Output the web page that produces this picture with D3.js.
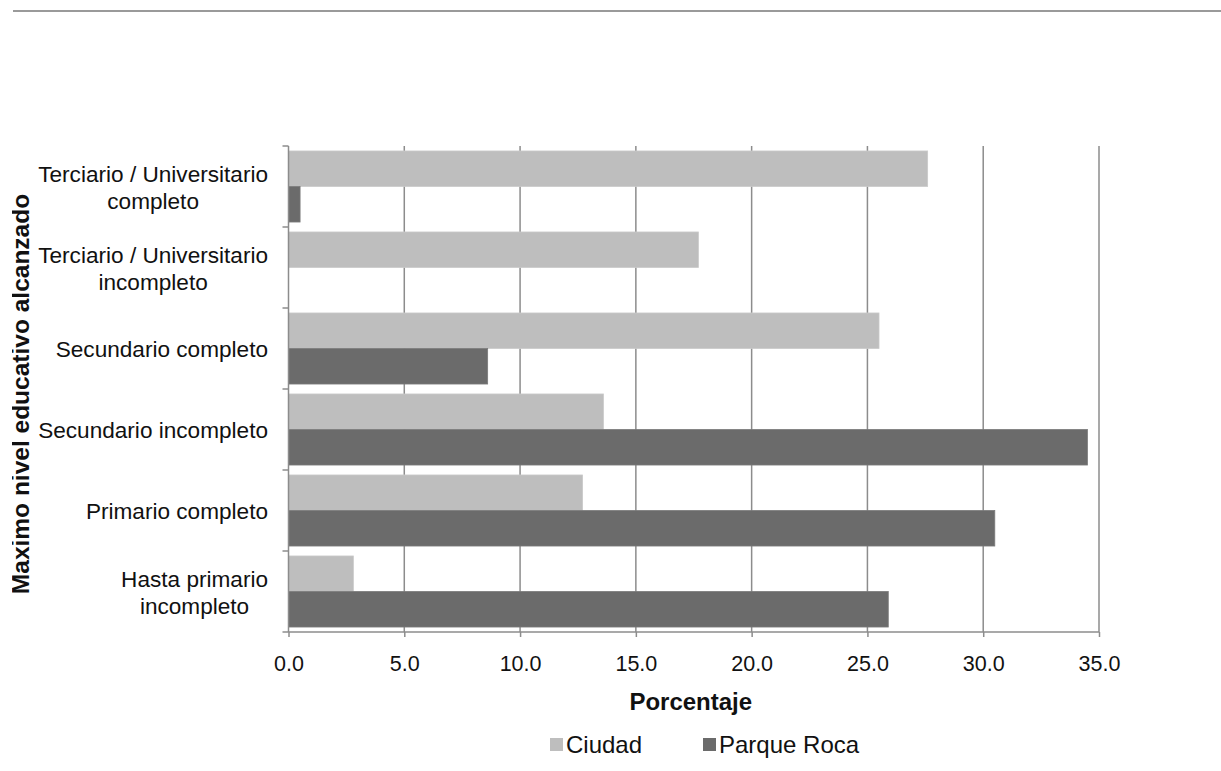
<!DOCTYPE html>
<html>
<head>
<meta charset="utf-8">
<script src="https://cdn.jsdelivr.net/npm/d3@7"></script>
<style>
  html, body { margin: 0; padding: 0; background: #fff; }
  svg { display: block; font-family: "Liberation Sans", Arial, sans-serif; }
</style>
</head>
<body>
<svg id="chart" width="1221" height="771"></svg>
<script>
// Education level categories, listed top to bottom
const categories = [
  ["Terciario / Universitario", "completo"],
  ["Terciario / Universitario", "incompleto"],
  ["Secundario completo"],
  ["Secundario incompleto"],
  ["Primario completo"],
  ["Hasta primario", "incompleto"]
];
const seriesNames = ["Ciudad", "Parque Roca"];
const ciudad = [27.6, 17.7, 25.5, 13.6, 12.7, 2.8];
const parqueRoca = [0.5, 0.0, 8.6, 34.5, 30.5, 25.9];
const xTicks = [0, 5, 10, 15, 20, 25, 30, 35];

const colors = { "Ciudad": "#bebebe", "Parque Roca": "#6b6b6b" };
const gridColor = "#8c8c8c";

const svg = d3.select("#chart");

// Page header rule
svg.append("line")
  .attr("x1", 13).attr("x2", 1221).attr("y1", 11).attr("y2", 11)
  .attr("stroke", "#9a9a9a").attr("stroke-width", 2);

const plot = { left: 288.5, right: 1099, top: 146, bottom: 632 };

const x = d3.scaleLinear().domain([0, 35]).range([plot.left, plot.right]);
const catKeys = categories.map(c => c.join(" "));
const y = d3.scaleBand().domain(catKeys).range([plot.top, plot.bottom]).padding(0);
const ySub = d3.scaleBand().domain(seriesNames).range([0, y.bandwidth()])
  .paddingInner(0).paddingOuter(0.14);

const rows = catKeys.map((k, i) => ({
  key: k,
  values: [
    { series: "Ciudad", value: ciudad[i] },
    { series: "Parque Roca", value: parqueRoca[i] }
  ]
}));

// Vertical gridlines
svg.append("g")
  .selectAll("line")
  .data(xTicks.filter(t => t > 0))
  .join("line")
  .attr("x1", d => x(d)).attr("x2", d => x(d))
  .attr("y1", plot.top).attr("y2", plot.bottom)
  .attr("stroke", gridColor).attr("stroke-width", 1.5);

// Bars
const groups = svg.append("g")
  .selectAll("g")
  .data(rows)
  .join("g")
  .attr("transform", d => `translate(0,${y(d.key)})`);

groups.selectAll("rect")
  .data(d => d.values.filter(v => v.value > 0))
  .join("rect")
  .attr("x", x(0))
  .attr("y", d => ySub(d.series))
  .attr("width", d => x(d.value) - x(0))
  .attr("height", ySub.bandwidth())
  .attr("fill", d => colors[d.series])
  .attr("stroke", d => d.series === "Ciudad" ? "#cacaca" : "#7a7a7a")
  .attr("stroke-width", 0.8);

// Bottom axis line with ticks
const xAxis = d3.axisBottom(x).tickValues(xTicks).tickSize(5).tickFormat(d3.format(".1f"));
const gx = svg.append("g")
  .attr("transform", `translate(0,${plot.bottom})`)
  .call(xAxis);
gx.select(".domain").attr("stroke", gridColor).attr("stroke-width", 1.5)
  .attr("d", `M${plot.left},0H${plot.right}`);
gx.selectAll(".tick line").attr("stroke", gridColor).attr("stroke-width", 1.5);
gx.selectAll(".tick text")
  .attr("y", 31).attr("dy", "0.35em")
  .attr("fill", "#111").attr("font-size", 21.5)
  .attr("font-family", "Liberation Sans, Arial, sans-serif");

// Left axis line with boundary ticks between categories
const gy = svg.append("g");
gy.append("line")
  .attr("x1", plot.left).attr("x2", plot.left)
  .attr("y1", plot.top).attr("y2", plot.bottom)
  .attr("stroke", gridColor).attr("stroke-width", 1.5);
const boundaries = catKeys.map(k => y(k)).concat([plot.bottom]);
gy.selectAll("line.b")
  .data(boundaries)
  .join("line")
  .attr("class", "b")
  .attr("x1", plot.left - 6).attr("x2", plot.left)
  .attr("y1", d => d).attr("y2", d => d)
  .attr("stroke", gridColor).attr("stroke-width", 1.5);

// Category labels: each block is right-aligned, lines centred on each other
const lineGap = 27;
const labels = svg.append("g")
  .selectAll("text")
  .data(categories)
  .join("text")
  .attr("text-anchor", "middle")
  .attr("font-size", 22.6)
  .attr("fill", "#111")
  .attr("transform", (d, i) => `translate(0,${y(catKeys[i]) + y.bandwidth() / 2 + 1})`);
labels.each(function(d) {
  const t = d3.select(this);
  const n = d.length;
  d.forEach((line, j) => {
    t.append("tspan")
      .attr("x", 0)
      .attr("y", (j - (n - 1) / 2) * lineGap)
      .attr("dy", "0.35em")
      .text(line);
  });
});
labels.each(function() {
  const bb = this.getBBox();
  const cx = 268 - bb.width / 2;
  d3.select(this).selectAll("tspan").attr("x", cx);
});

// Axis titles
svg.append("text")
  .attr("x", (plot.left + plot.right) / 2 - 3)
  .attr("y", 702).attr("dy", "0.35em")
  .attr("text-anchor", "middle")
  .attr("font-size", 24).attr("font-weight", "bold").attr("fill", "#111")
  .text("Porcentaje");

svg.append("clipPath").attr("id", "leftClip")
  .append("rect").attr("x", 12).attr("y", 0).attr("width", 200).attr("height", 771);
svg.append("g")
  .attr("clip-path", "url(#leftClip)")
  .append("text")
  .attr("transform", "translate(29,394) rotate(-90)")
  .attr("text-anchor", "middle")
  .attr("font-size", 24.5).attr("font-weight", "bold").attr("fill", "#111")
  .text("Maximo nivel educativo alcanzado");

// Legend
const legend = svg.append("g").attr("transform", "translate(0,745)");
const legendItems = [
  { name: "Ciudad", x: 550 },
  { name: "Parque Roca", x: 703 }
];
legendItems.forEach(item => {
  legend.append("rect")
    .attr("x", item.x).attr("y", -7)
    .attr("width", 13).attr("height", 13)
    .attr("fill", colors[item.name]);
  legend.append("text")
    .attr("x", item.x + 16).attr("y", 0).attr("dy", "0.35em")
    .attr("font-size", 24).attr("fill", "#111")
    .text(item.name);
});
</script>
</body>
</html>
